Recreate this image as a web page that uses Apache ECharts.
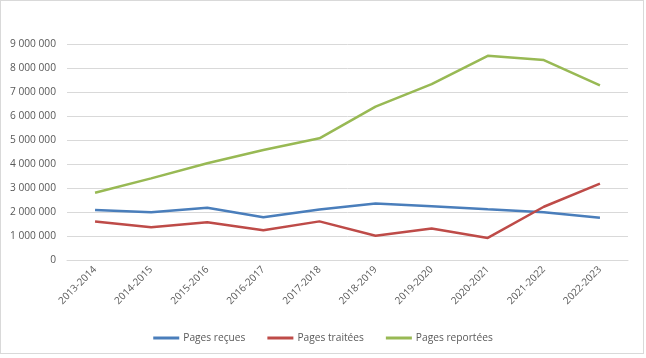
<!DOCTYPE html>
<html>
<head>
<meta charset="utf-8">
<script src="https://cdn.jsdelivr.net/npm/echarts@6/dist/echarts.min.js"></script>
<style>
html,body{margin:0;padding:0;background:#fff;}
#wrap{position:relative;width:646px;height:358px;}
#frame{position:absolute;left:0;top:0;width:642px;height:352px;border:1px solid #d9d9d9;pointer-events:none;}
#chart{position:absolute;left:0;top:0;width:646px;height:358px;}
</style>
</head>
<body>
<div id="wrap"><div id="chart"></div><div id="frame"></div></div>
<script>
const categories = ['2013-2014','2014-2015','2015-2016','2016-2017','2017-2018','2018-2019','2019-2020','2020-2021','2021-2022','2022-2023'];
const pagesRecues = [2080000,1990000,2180000,1780000,2100000,2350000,2240000,2110000,1990000,1760000];
const pagesTraitees = [1600000,1360000,1570000,1240000,1610000,1010000,1310000,920000,2220000,3180000];
const pagesReportees = [2800000,3400000,4030000,4580000,5070000,6390000,7330000,8510000,8330000,7280000];
const seriesNames = ['Pages reçues','Pages traitées','Pages reportées'];
const colors = ['#4a7ebb','#be4b48','#98b954'];

function fmt(v){
  return String(v).replace(/\B(?=(\d{3})+(?!\d))/g,' ');
}

const chart = echarts.init(document.getElementById('chart'), null, {renderer:'canvas'});
const dataSets = [pagesRecues, pagesTraitees, pagesReportees];
chart.setOption({
  animation:false,
  color:colors,
  textStyle:{fontFamily:'"Open Sans", "Noto Sans", sans-serif'},
  grid:{left:67,right:18,top:44,bottom:98},
  legend:{
    bottom:10,left:'center',
    itemWidth:26,itemHeight:3,itemGap:22,
    icon:'rect',
    textStyle:{color:'#595959',fontSize:10.2,padding:[0,0,0,-1],fontFamily:'"Open Sans", sans-serif'},
    data:seriesNames
  },
  xAxis:{
    type:'category',
    data:categories,
    boundaryGap:true,
    axisLine:{lineStyle:{color:'#d9d9d9'}},
    axisTick:{show:false},
    axisLabel:{rotate:45,color:'#595959',fontSize:10,margin:8,interval:0}
  },
  yAxis:{
    type:'value',
    min:0,max:9000000,interval:1000000,
    axisLine:{show:false},
    axisTick:{show:false},
    splitLine:{lineStyle:{color:'#d9d9d9',width:1}},
    axisLabel:{color:'#595959',fontSize:10.2,margin:11,formatter:fmt}
  },
  series:seriesNames.map((n,i)=>({
    name:n,type:'line',data:dataSets[i],
    symbol:'none',lineStyle:{width:2.5,color:colors[i]},
    itemStyle:{color:colors[i]}
  }))
});
</script>
</body>
</html>
